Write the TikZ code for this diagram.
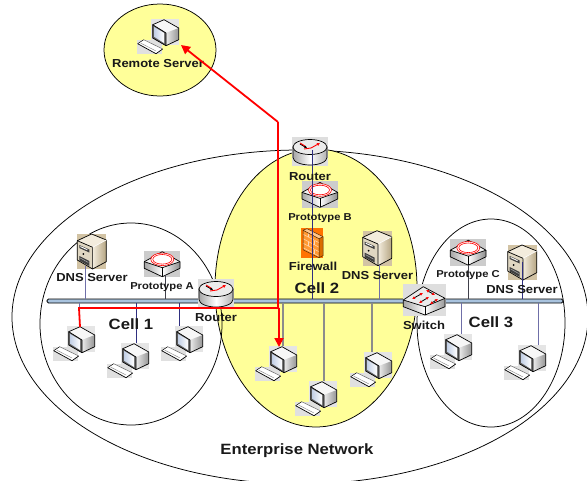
\documentclass[tikz,border=0pt]{standalone}
\usepackage{fontspec}
\setmainfont[FakeStretch=1.12]{Liberation Sans}
\usetikzlibrary{arrows.meta,calc,shapes.geometric}
\definecolor{cellyellow}{HTML}{FFFF99}
\definecolor{busblue}{HTML}{A9C3DE}
\definecolor{slateline}{HTML}{6F6FA8}
\definecolor{navyline}{HTML}{2F2F80}
\definecolor{grayline}{HTML}{8C8C8C}
\definecolor{darkline}{HTML}{40404A}
\definecolor{tanbg}{HTML}{D2C3A4}
\definecolor{tanlight}{HTML}{F3ECDD}
\definecolor{tandark}{HTML}{B5A582}
\definecolor{netred}{HTML}{FF0000}
\definecolor{screenblue}{HTML}{C3D0E6}
\tikzset{
  cellring/.style={ellipse,draw=black,line width=0.75pt,inner sep=0pt},
  lab/.style={font=\bfseries\fontsize{11.6}{12}\selectfont,text=black!90,inner sep=0pt},
  labsmall/.style={font=\bfseries\fontsize{10}{11}\selectfont,text=black!90,inner sep=0pt},
  labbig/.style={font=\bfseries\fontsize{14.9}{16}\selectfont,text=black!90,inner sep=0pt},
  slatetap/.style={draw=slateline,line width=0.8pt},
  navytap/.style={draw=navyline,line width=0.8pt},
  graytap/.style={draw=grayline,line width=1.1pt},
  darktap/.style={draw=darkline,line width=0.8pt},
  redlink/.style={draw=netred,line width=1.8pt,line join=miter},
  redarrow/.style={redlink,-{Triangle[length=9pt,width=9pt]}},
  edge3d/.style={draw=black,line width=0.7pt,line join=round},
  pcunit/.pic={
    \fill[black!10] (0,0) rectangle (28,26);
    \fill[black!12] (-14,20.5) rectangle (11,35);
    \fill[black!3] (1.7,5.7) -- (13,0.7) -- (27.7,9) -- (15,14) -- cycle;
    \shade[left color=black!8,right color=black!42] (15,14) -- (27.7,9) -- (27.7,20.7) -- (15,26.7) -- cycle;
    \fill[black!60] (1.7,5.7) -- (15,14) -- (15,26.7) -- (1.7,19) -- cycle;
    \shade[left color=screenblue,right color=white] (3.2,8) -- (13,13.8) -- (13,24) -- (3.2,17.8) -- cycle;
    \draw[edge3d] (1.7,5.7) -- (13,0.7) -- (27.7,9) -- (27.7,20.7) -- (15,26.7) -- (1.7,19) -- cycle;
    \draw[edge3d] (1.7,5.7) -- (15,14) -- (15,26.7);
    \fill[white] (-13.3,24.7) -- (-7.3,20.7) -- (11.7,30) -- (5,34.7) -- cycle;
    \draw[black,line width=0.5pt] (-13.3,24.7) -- (-7.3,20.7);
    \draw[black,line width=0.7pt] (-13.3,24.7) -- (5,34.7) -- (11.7,30);
    \draw[black!60,line width=0.5pt] (-7.3,20.7) -- (11.7,30);
    \draw[black!50,line width=0.4pt] (-10.5,24) -- (5,32);
  },
  routerunit/.pic={
    \fill[black!13] (-18,-10) rectangle (18,19);
    \shade[left color=black!35,right color=black!30,middle color=white,draw=black,line width=0.7pt]
      (-17,0) -- (-17,10.5) arc[start angle=180,end angle=0,x radius=17,y radius=7.5] -- (17,0) -- cycle;
    \fill[black!8,draw=black,line width=0.7pt] (0,0) ellipse[x radius=17,y radius=7.5];
    \draw[black,line width=0.9pt,-{Latex[length=2.5pt,width=3pt]}] (-10,-3) -- (-3,1);
    \draw[netred,line width=0.9pt,-{Latex[length=3pt,width=3.5pt]}] (-6,2) -- (1,1) -- (10,-4);
    \draw[netred,line width=0.9pt] (-10,-4) -- (-5,-1);
  },
  switchunit/.pic={
    \fill[black!13] (-21,-16) rectangle (22,16);
    \fill[black!8] (-20.7,0) -- (-0.7,-13.3) -- (21,-1.7) -- (1,6.7) -- cycle;
    \shade[left color=black!35,right color=white] (-20.7,0) -- (1,6.7) -- (1,15) -- (-20.7,6.7) -- cycle;
    \shade[left color=white,right color=black!40] (1,6.7) -- (21,-1.7) -- (21,6.7) -- (1,15) -- cycle;
    \draw[edge3d] (-20.7,0) -- (-0.7,-13.3) -- (21,-1.7) -- (21,6.7) -- (1,15) -- (-20.7,6.7) -- cycle;
    \draw[edge3d] (-20.7,0) -- (1,6.7) -- (21,-1.7);
    \draw[edge3d] (1,6.7) -- (1,15);
    \foreach \ax/\ay/\bx/\by in {-12/-1/-1/-7,-5/3/5/-3,2/-10/11/-5,6/4/14/-1}{
      \draw[black,line width=0.8pt,{Latex[length=3pt,width=3pt,color=netred]}-{Latex[length=3pt,width=3pt,color=netred]}] (\ax,\ay) -- (\bx,\by);
    }
  },
  protounit/.pic={
    \fill[black!20] (-18,-8.3) rectangle (18,18);
    \fill[black!6] (-17.7,2.7) -- (0.3,-7.3) -- (18,2.7) -- (0.3,8.7) -- cycle;
    \shade[left color=black!35,right color=white] (-17.7,2.7) -- (0.3,8.7) -- (0.3,17.7) -- (-17.7,9.3) -- cycle;
    \shade[left color=white,right color=black!45] (0.3,8.7) -- (18,2.7) -- (18,9.3) -- (0.3,17.7) -- cycle;
    \draw[edge3d] (-17.7,2.7) -- (0.3,-7.3) -- (18,2.7) -- (18,9.3) -- (0.3,17.7) -- (-17.7,9.3) -- cycle;
    \draw[edge3d] (-17.7,2.7) -- (0.3,8.7) -- (18,2.7);
    \draw[edge3d] (0.3,8.7) -- (0.3,17.7);
    \fill[white] (0.3,0.3) ellipse[x radius=11.5,y radius=6.3];
    \draw[netred,line width=0.6pt] (0.3,0.3) ellipse[x radius=11.5,y radius=6.3];
    \draw[netred,line width=0.6pt] (0.3,0.3) ellipse[x radius=9.5,y radius=4.8];
  },
  serverunit/.pic={
    \fill[tanbg] (0,0) rectangle (29,35);
    \fill[tanlight] (0,6.7) -- (14.3,0) -- (29,6) -- (15.3,13.3) -- cycle;
    \shade[left color=tanlight,right color=tandark] (15.3,13.3) -- (29,6) -- (29,27.7) -- (15.3,35) -- cycle;
    \fill[tanlight!70!tandark] (0,6.7) -- (15.3,13.3) -- (15.3,35) -- (0,26) -- cycle;
    \fill[black!75] (2,11) -- (12,15.5) -- (12,18.5) -- (2,14) -- cycle;
    \fill[white] (3,12) -- (10,15.2) -- (10,16.2) -- (3,13) -- cycle;
    \fill[black] (6,20) circle[radius=1];
    \fill[black!75] (2,22) -- (12,27) -- (12,32) -- (2,26.5) -- cycle;
    \draw[black!30,line width=0.5pt] (3,24) -- (11,28.5);
    \draw[edge3d] (0,6.7) -- (14.3,0) -- (29,6) -- (29,27.7) -- (15.3,35) -- (0,26) -- cycle;
    \draw[edge3d] (0,6.7) -- (15.3,13.3) -- (15.3,35);
    \draw[white,line width=0.6pt] (15.3,13.3) -- (29,6);
  },
  wallunit/.pic={
    \fill[orange!90!red] (0,0) rectangle (22.3,30.6);
    \fill[orange!45] (2,2.5) -- (6,1) -- (22,9) -- (18,11) -- cycle;
    \fill[orange!80!white] (2,2.5) -- (18,11) -- (18,30) -- (2,22) -- cycle;
    \fill[orange!85!black] (18,11) -- (22,9) -- (22,28) -- (18,30) -- cycle;
    \foreach \k in {0,1,2,3}{
      \draw[white!70!orange,line width=0.5pt] (2,{6.5+\k*4.5}) -- (18,{15+\k*4.5});
    }
    \draw[white!70!orange,line width=0.5pt] (7,5.2) -- (7,9.5) (13,12.8) -- (13,17.3) (7,14.2) -- (7,18.7) (13,21.8) -- (13,26.3);
    \draw[black!70!orange,line width=0.5pt] (2,2.5) -- (6,1) -- (22,9) -- (22,28) -- (18,30) -- (2,22) -- cycle;
    \draw[black!70!orange,line width=0.5pt] (2,2.5) -- (18,11) -- (18,30) (18,11) -- (22,9);
  }
}
\begin{document}
\begin{tikzpicture}[x=1pt,y=-1pt]
\useasboundingbox (0,0) rectangle (587,480);
\clip (0,0) rectangle (587,480);
% regions
\node[cellring,minimum width=576pt,minimum height=334pt] (enterprise) at (300,317) {};
\node[cellring,fill=cellyellow,minimum width=202pt,minimum height=278pt] (cell2) at (316,288) {};
\node[cellring,minimum width=182pt,minimum height=202pt] (cell1) at (131,324) {};
\node[cellring,minimum width=148pt,minimum height=208pt] (cell3) at (491,323) {};
\node[cellring,fill=cellyellow,minimum width=112pt,minimum height=92pt] (remote) at (160,50) {};
% bus
\node[draw=black,fill=busblue,line width=0.8pt,rounded corners=1.5pt,minimum width=516pt,minimum height=4pt,inner sep=0pt] (bus) at (305,301) {};
% tap points
\coordinate (tA) at (79,327);
\coordinate (tB) at (136,344);
\coordinate (tC) at (179,328);
\coordinate (tD) at (283,349);
\coordinate (tE) at (324,383);
\coordinate (tF) at (372,354);
\coordinate (tG) at (461,336);
\coordinate (tH) at (538,347);
\coordinate (uA) at (85,266);
\coordinate (uB) at (165,275);
\coordinate (uD) at (379,265);
\coordinate (uE) at (468,265);
\coordinate (uF) at (522,262);
\coordinate (uR) at (312,150);
% lower taps
\draw[slatetap] (tA) -- (tA |- bus.south);
\draw[navytap] (tB) -- (tB |- bus.south);
\draw[navytap] (tC) -- (tC |- bus.south);
\draw[graytap] (tD) -- (tD |- bus.south);
\draw[graytap] (tE) -- (tE |- bus.south);
\draw[graytap] (tF) -- (tF |- bus.south);
\draw[slatetap] (tG) -- (tG |- bus.south);
\draw[slatetap] (tH) -- (tH |- bus.south);
% icons
\pic at (151,19) {pcunit};
\pic at (67,326) {pcunit};
\pic at (121,343) {pcunit};
\pic at (175,326) {pcunit};
\pic at (269,346) {pcunit};
\pic at (309,381) {pcunit};
\pic at (364,352) {pcunit};
\pic at (444,334) {pcunit};
\pic at (518,345) {pcunit};
\pic at (77.3,234) {serverunit};
\pic at (362.7,230.7) {serverunit};
\pic at (507.7,245) {serverunit};
\pic at (162,259) {protounit};
\pic at (319.7,189.7) {protounit};
\pic at (468,247.5) {protounit};
\pic at (301,227.7) {wallunit};
\pic at (216,289) {routerunit};
\pic at (310,147) {routerunit};
% upper taps
\draw[slatetap] (uA) -- (uA |- bus.north);
\draw[darktap] (uB) -- (uB |- bus.north);
\draw[slatetap] (uD) -- (uD |- bus.north);
\draw[darktap] (uE) -- (uE |- bus.north);
\draw[navytap] (uF) -- (uF |- bus.north);
\draw[navytap] (uR) -- (uR |- bus.north);
\pic at (424,300) {switchunit};
% labels
\node[lab] (lremote) at (158,64) {Remote Server};
\node[lab] (lr1) at (310,176.5) {Router};
\node[labsmall] (lpb) at (320,218) {Prototype B};
\node[lab] (lfw) at (313,266.5) {Firewall};
\node[lab] (ldns2) at (377.5,275.5) {DNS Server};
\node[labbig] (lc2) at (317,288.5) {Cell 2};
\node[labsmall] (lpc) at (468,275) {Prototype C};
\node[lab] (ldns3) at (522,289.5) {DNS Server};
\node[lab] (lsw) at (424,325.5) {Switch};
\node[labbig] (lc3) at (491,322.5) {Cell 3};
\node[labbig] (lc1) at (131,324.5) {Cell 1};
\node[lab] (ldns1) at (92,277.5) {DNS Server};
\node[labsmall] (lpa) at (162,287) {Prototype A};
\node[lab] (lr2) at (216,317.5) {Router};
\node[labbig] (lent) at (297,450.5) {Enterprise Network};
% red path
\coordinate (rA) at (80,327);
\coordinate (rB) at (79,308);
\coordinate (rC) at (279,308);
\coordinate (rD) at (279,347);
\coordinate (rE) at (278,122);
\coordinate (rF) at (181,45);
\draw[redlink] (rA) -- (rB) -- (rC);
\draw[redarrow] (rE) -- (rF);
\draw[redlink] (rE) -- (rE |- rC);
\draw[redarrow] (rC) -- (rD);
\end{tikzpicture}
\end{document}
